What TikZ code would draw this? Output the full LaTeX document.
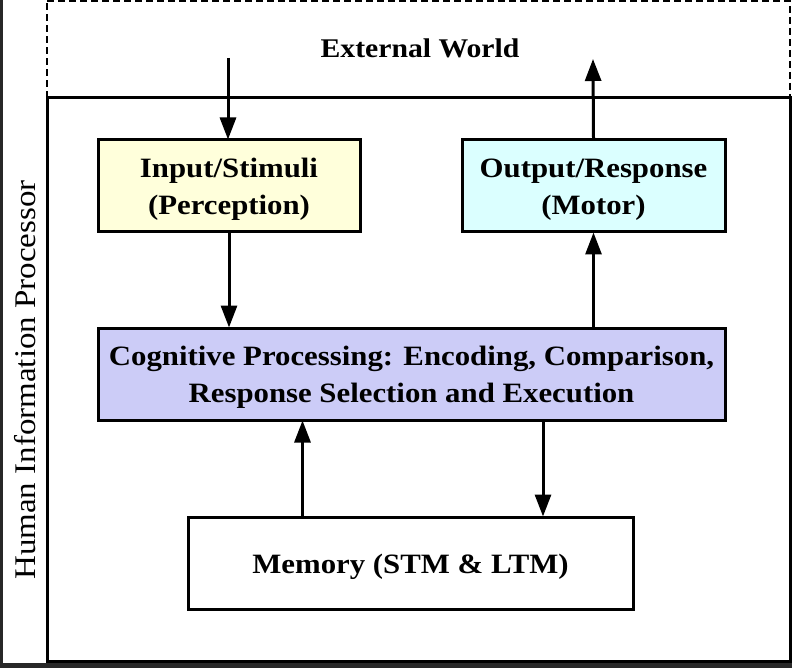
\documentclass[tikz,border=0pt]{standalone}
\usepackage{fontspec}
\setmainfont[FakeStretch=1.1]{Liberation Serif}
\usetikzlibrary{arrows.meta}
\definecolor{inyellow}{RGB}{255,255,219}
\definecolor{outcyan}{RGB}{219,255,255}
\definecolor{coglav}{RGB}{204,204,247}
\definecolor{framegray}{RGB}{40,40,40}
\tikzset{
  boxstyle/.style={draw=black, line width=3pt, minimum height=92pt, align=center,
    inner sep=0pt, text height=63pt, font=\fontsize{28}{37}\selectfont\bfseries},
  onelinebox/.style={boxstyle, text height=28pt},
  arr/.style={line width=3pt, -{Triangle[length=22pt,width=16pt]}, shorten >=-1pt},
  dashframe/.style={draw=black, line width=2pt, dash pattern=on 7pt off 4pt},
  solidframe/.style={draw=black, line width=3pt},
  label/.style={font=\fontsize{27}{30}\selectfont\bfseries},
  sidelabel/.style={font=\fontsize{30}{30}\selectfont, rotate=90}
}
\begin{document}
\begin{tikzpicture}[x=1pt,y=-1pt]
\useasboundingbox (0,0) rectangle (792,668);
\fill[white] (0,0) rectangle (792,668);
% screenshot frame
\fill[framegray] (0,0) rectangle (3,668);
\fill[framegray] (0,663) rectangle (792,668);
% frames
\draw[dashframe] (47,1) -- (790,1) -- (790,98);
\draw[dashframe] (47,98) -- (47,1);
\draw[solidframe] (47,98) rectangle (790,661);
% labels
\node[label] (ext) at (420,48) {External World};
\node[sidelabel] (hip) at (25,380) {Human Information Processor};
% boxes
\node[boxstyle, fill=inyellow, minimum width=262pt] (inp) at (229,186) {Input/Stimuli\\(Perception)};
\node[boxstyle, fill=outcyan, minimum width=263pt] (out) at (593.5,186) {Output/Response\\(Motor)};
\node[boxstyle, fill=coglav, minimum width=627pt] (cog) at (411.5,374) {Cognitive Processing: Encoding, Comparison,\\Response Selection and Execution};
\node[onelinebox, fill=white, minimum width=445pt] (mem) at (410.5,563) {Memory (STM \& LTM)};
% free ends
\coordinate (extin) at (228,58);
\coordinate (extout) at (593,60);
% connectors
\draw[arr] (extin) -- (extin |- inp.north);
\draw[arr] (inp.south) -- (inp.south |- cog.north);
\draw[arr] (out.south |- cog.north) -- (out.south);
\draw[arr] (out.north) -- (extout);
\draw[arr] ([xshift=-108pt]mem.north) -- ([xshift=-108pt]mem.north |- cog.south);
\draw[arr] ([xshift=132.5pt]mem.north |- cog.south) -- ([xshift=132.5pt]mem.north);
\end{tikzpicture}
\end{document}
